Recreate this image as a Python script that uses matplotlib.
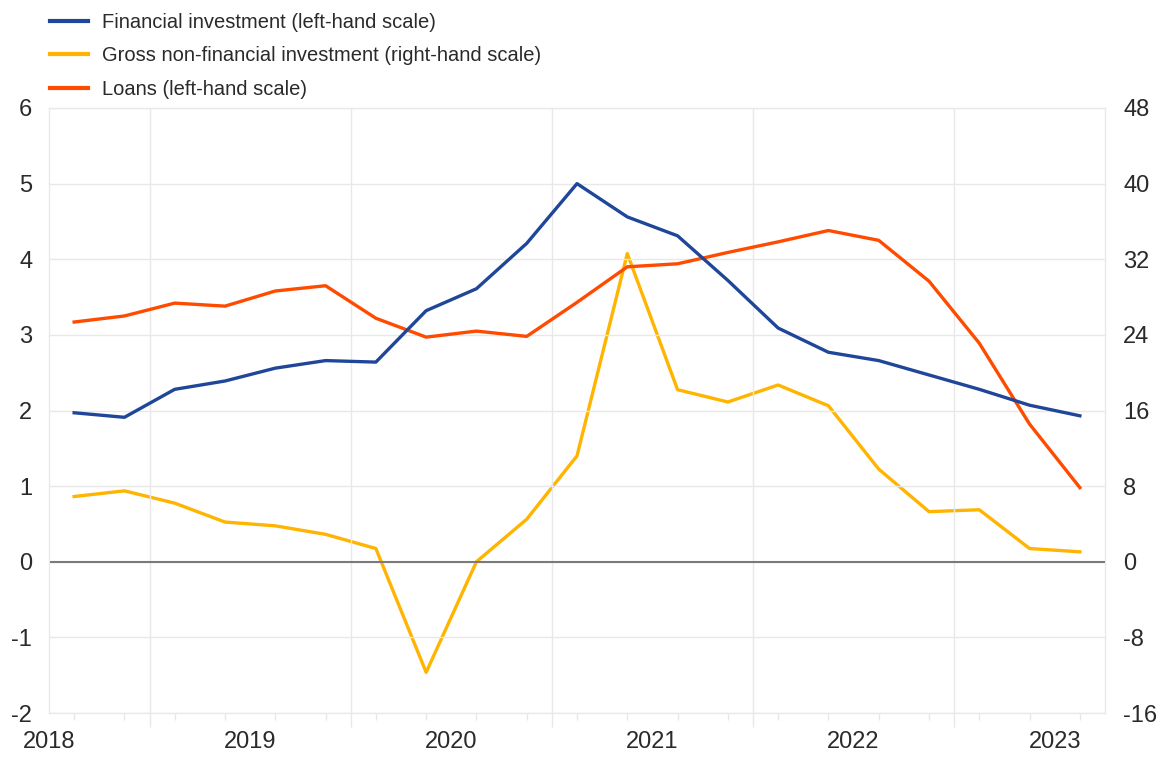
import numpy as np
import matplotlib.pyplot as plt
from matplotlib.lines import Line2D

plt.rcParams['font.family'] = ['Liberation Sans', 'DejaVu Sans']
plt.rcParams['axes.unicode_minus'] = False

# quarterly observations, 2018 Q1 to 2023 Q1
quarters = ['2018Q1', '2018Q2', '2018Q3', '2018Q4', '2019Q1', '2019Q2', '2019Q3', '2019Q4',
            '2020Q1', '2020Q2', '2020Q3', '2020Q4', '2021Q1', '2021Q2', '2021Q3', '2021Q4',
            '2022Q1', '2022Q2', '2022Q3', '2022Q4', '2023Q1']
financial_inv = [1.97, 1.91, 2.28, 2.39, 2.56, 2.66, 2.64, 3.32, 3.61, 4.21, 5.0,
                 4.56, 4.31, 3.72, 3.09, 2.77, 2.66, 2.47, 2.28, 2.07, 1.93]
loans = [3.17, 3.25, 3.42, 3.38, 3.58, 3.65, 3.22, 2.97, 3.05, 2.98, 3.43,
         3.90, 3.94, 4.09, 4.23, 4.38, 4.25, 3.71, 2.89, 1.82, 0.98]
gross_nonfin = [6.9, 7.5, 6.2, 4.2, 3.8, 2.9, 1.4, -11.7, 0.0, 4.5, 11.2,
                32.6, 18.2, 16.9, 18.7, 16.5, 9.8, 5.3, 5.5, 1.4, 1.05]
year_labels = ['2018', '2019', '2020', '2021', '2022', '2023']

blue = '#1f4699'
yellow = '#ffb400'
orange = '#ff4b00'
grid_c = '#e8e8e8'
text_c = '#2a2a2a'

fig = plt.figure(figsize=(11.69, 7.58), dpi=100)
ax = fig.add_axes([49/1169, 1 - 713/758, (1105-49)/1169, (713-108)/758])
ax2 = ax.twinx()

x = np.arange(len(quarters))

ax.set_xlim(-0.5, 20.5)
ax.set_ylim(-2, 6)
ax2.set_ylim(-16, 48)
ax.set_yticks(range(-2, 7))
ax2.set_yticks(range(-16, 49, 8))

for v in range(-2, 7):
    ax.axhline(v, color=grid_c, lw=1, zorder=0)
for g in [1.5, 5.5, 9.5, 13.5, 17.5]:
    ax.axvline(g, color=grid_c, lw=1, zorder=0)
ax.axhline(0, color='#7a7a7a', lw=1.5, zorder=1)

ax2.plot(x, gross_nonfin, color=yellow, lw=2.4, zorder=3)
ax.plot(x, loans, color=orange, lw=2.4, zorder=3)
ax.plot(x, financial_inv, color=blue, lw=2.4, zorder=4)
ax.set_zorder(ax2.get_zorder() + 1)
ax.patch.set_visible(False)

for a in (ax, ax2):
    for s in a.spines.values():
        s.set_color(grid_c)

ax.set_xticks([1.5, 5.5, 9.5, 13.5, 17.5])
ax.set_xticklabels([])
ax.set_xticks(x, minor=True)
ax.tick_params(axis='x', which='major', length=10, color=grid_c, width=1)
ax.tick_params(axis='x', which='minor', length=5, color=grid_c, width=1)
ax.tick_params(axis='y', length=0, pad=12, labelsize=17, labelcolor=text_c)
ax2.tick_params(axis='y', length=0, pad=13, labelsize=17, labelcolor=text_c)

for i, lab in enumerate(year_labels):
    ax.text(-0.5 + 4 * i, -0.03, lab, transform=ax.get_xaxis_transform(),
            ha='center', va='top', fontsize=17, color=text_c)

handles = [Line2D([], [], color=blue, lw=3),
           Line2D([], [], color=yellow, lw=3),
           Line2D([], [], color=orange, lw=3)]
labels = ['Financial investment (left-hand scale)',
          'Gross non-financial investment (right-hand scale)',
          'Loans (left-hand scale)']
fig.legend(handles, labels, loc='upper left', bbox_to_anchor=(32/1169, 1.007),
           frameon=False, fontsize=14.5, handlelength=1.9, handletextpad=0.7,
           labelspacing=0.72, labelcolor=text_c)

fig.savefig('out.png', dpi=100)
